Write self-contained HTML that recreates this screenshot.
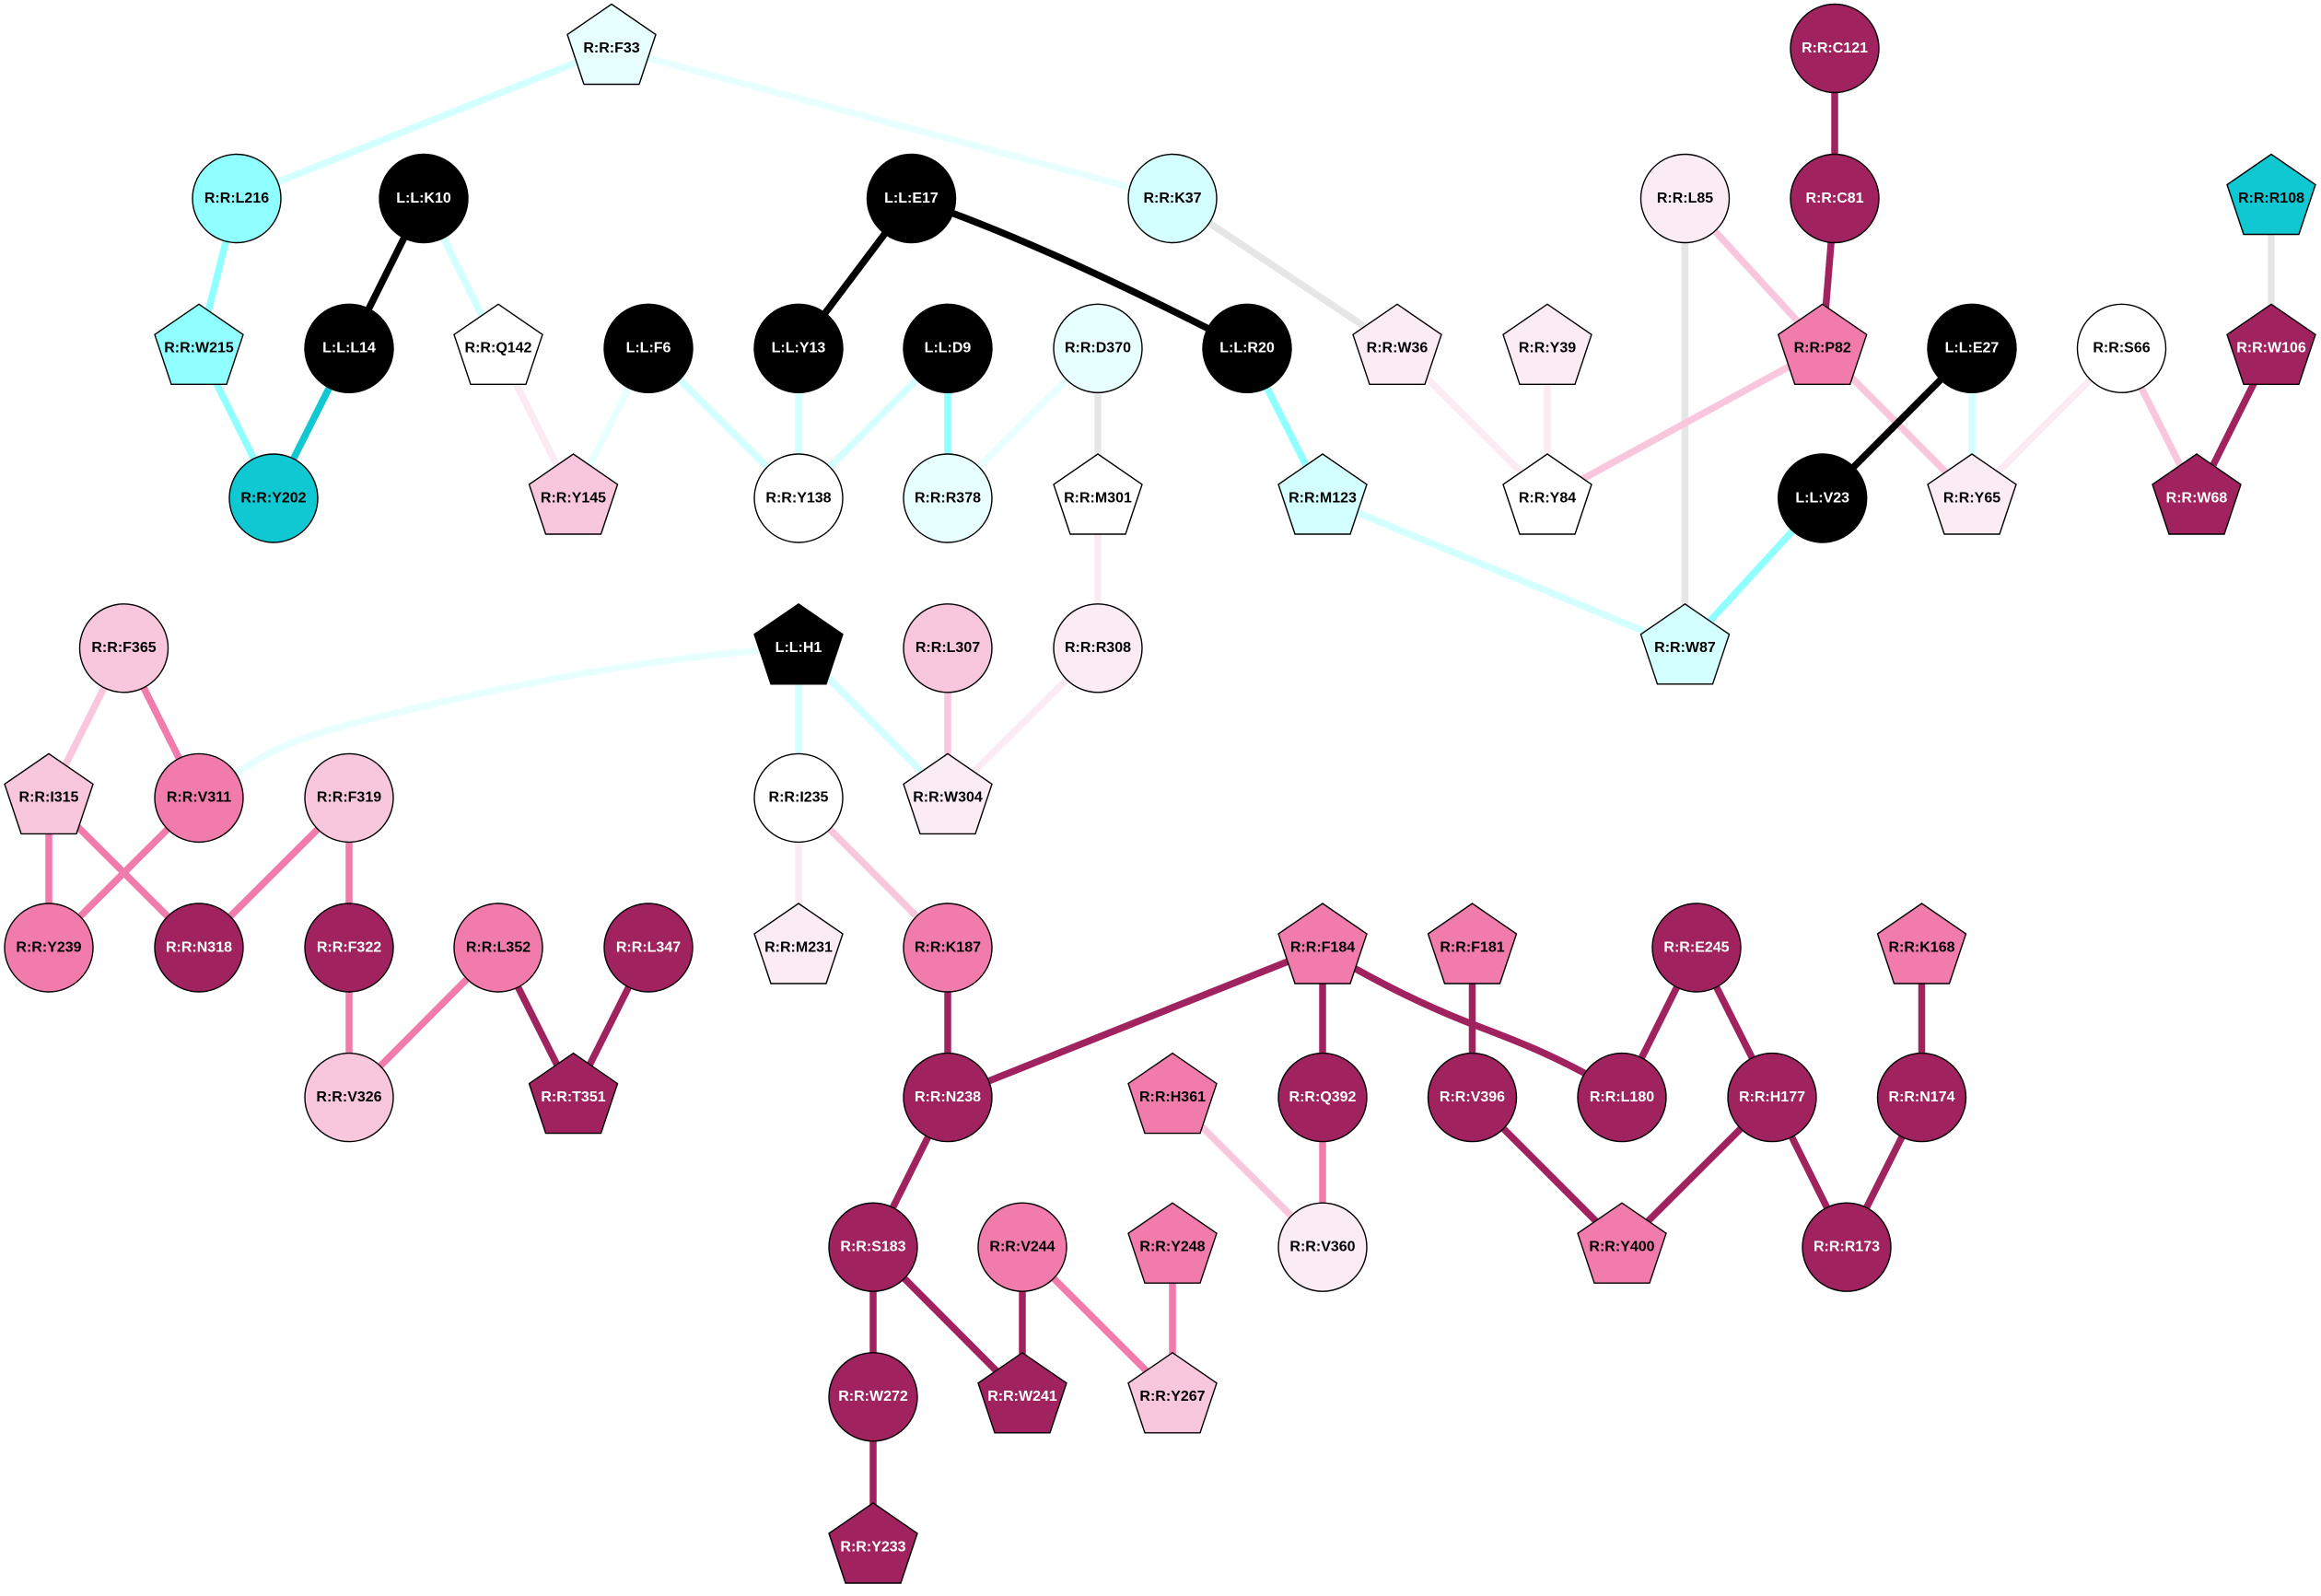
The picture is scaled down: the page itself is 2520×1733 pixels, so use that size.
<!DOCTYPE html>
<html><head><meta charset="utf-8"><title>Residue network</title>
<style>
html,body{margin:0;padding:0;background:#fff}
svg{display:block}
text{font-family:"Liberation Sans",Arial,sans-serif;font-size:16px;font-weight:bold;text-anchor:middle}
.e{fill:none;stroke-width:7.5}
.k{stroke:#000}.d{stroke:#A0235F}.p{stroke:#F17CAC}.l{stroke:#F9C7DD}.f{stroke:#FBECF4}
.c{stroke:#8FFFFF}.t{stroke:#10C8D2}.m{stroke:#D3FFFF}.v{stroke:#E8FFFF}.g{stroke:#E6E6E6}
.n{stroke:#000;stroke-width:1.4}
.Nw{fill:#fff}.Nv{fill:#E8FFFF}.Nm{fill:#D3FFFF}.Nc{fill:#8FFFFF}.Nt{fill:#10C8D2}.Nf{fill:#FBECF4}.Nl{fill:#F9C7DD}.Np{fill:#F17CAC}.Nd{fill:#A0235F}.Nk{fill:#000}
.W{fill:#fff}
</style></head><body>
<svg xmlns="http://www.w3.org/2000/svg" width="2520" height="1733" viewBox="0 0 2520 1733">
<defs>
<circle id="o" r="48"/>
<polygon id="q" points="0,-48 48,-15 30,39 -30,39 -48,-15"/>
</defs>
<rect width="2520" height="1733" fill="#fff"/>
<g>
<line class="e m" x1="664" y1="52.5" x2="257" y2="215.5"/>
<line class="e v" x1="664" y1="52.5" x2="1273" y2="215.5"/>
<line class="e c" x1="257" y1="215.5" x2="216" y2="378.3"/>
<line class="e c" x1="216" y1="378.3" x2="297" y2="541"/>
<line class="e k" x1="460" y1="215.5" x2="379" y2="378.3"/>
<line class="e m" x1="460" y1="215.5" x2="541" y2="378.3"/>
<line class="e t" x1="379" y1="378.3" x2="297" y2="541"/>
<line class="e f" x1="541" y1="378.3" x2="622.5" y2="541"/>
<line class="e v" x1="704" y1="378.3" x2="622.5" y2="541"/>
<line class="e m" x1="704" y1="378.3" x2="867" y2="541"/>
<line class="e k" x1="989.5" y1="215.5" x2="867" y2="378.3"/>
<path class="e k" d="M989.5,215.5 Q1128.6,262 1354,378.3"/>
<line class="e m" x1="867" y1="378.3" x2="867" y2="541"/>
<line class="e m" x1="1029" y1="378.3" x2="867" y2="541"/>
<line class="e c" x1="1029" y1="378.3" x2="1029" y2="541"/>
<line class="e v" x1="1192" y1="378.3" x2="1029" y2="541"/>
<line class="e g" x1="1192" y1="378.3" x2="1192" y2="541"/>
<line class="e c" x1="1354" y1="378.3" x2="1436" y2="541"/>
<line class="e m" x1="1436" y1="541" x2="1829.5" y2="703.8"/>
<line class="e g" x1="1273" y1="215.5" x2="1517" y2="378.3"/>
<line class="e f" x1="1517" y1="378.3" x2="1680" y2="541"/>
<line class="e f" x1="1680" y1="378.3" x2="1680" y2="541"/>
<line class="e g" x1="1829.5" y1="215.5" x2="1829.5" y2="703.8"/>
<line class="e l" x1="1829.5" y1="215.5" x2="1978.7" y2="378.3"/>
<line class="e d" x1="1992" y1="52.5" x2="1992" y2="215.5"/>
<line class="e d" x1="1992" y1="215.5" x2="1978.7" y2="378.3"/>
<line class="e l" x1="1978.7" y1="378.3" x2="1680" y2="541"/>
<line class="e l" x1="1978.7" y1="378.3" x2="2141" y2="541"/>
<line class="e k" x1="2141" y1="378.3" x2="1978.7" y2="541"/>
<line class="e m" x1="2141" y1="378.3" x2="2141" y2="541"/>
<line class="e c" x1="1978.7" y1="541" x2="1829.5" y2="703.8"/>
<line class="e f" x1="2303.5" y1="378.3" x2="2141" y2="541"/>
<line class="e l" x1="2303.5" y1="378.3" x2="2385" y2="541"/>
<line class="e g" x1="2466" y1="215.5" x2="2466" y2="378.3"/>
<line class="e d" x1="2466" y1="378.3" x2="2385" y2="541"/>
<line class="e f" x1="1192" y1="541" x2="1192" y2="703.8"/>
<line class="e l" x1="134.5" y1="703.8" x2="53" y2="866.4"/>
<line class="e p" x1="134.5" y1="703.8" x2="216" y2="866.4"/>
<path class="e v" d="M867,703 C740,712 620,730 475.5,763.3 C400,781 335,795 291.8,818.3 C270,830 250,843 235,857"/>
<line class="e m" x1="867" y1="703.8" x2="867" y2="866.4"/>
<line class="e m" x1="867" y1="703.8" x2="1029" y2="866.4"/>
<line class="e l" x1="1029" y1="703.8" x2="1029" y2="866.4"/>
<line class="e f" x1="1192" y1="703.8" x2="1029" y2="866.4"/>
<line class="e p" x1="53" y1="866.4" x2="53" y2="1029"/>
<line class="e p" x1="53" y1="866.4" x2="216" y2="1029"/>
<line class="e p" x1="216" y1="866.4" x2="53" y2="1029"/>
<line class="e p" x1="379" y1="866.4" x2="216" y2="1029"/>
<line class="e p" x1="379" y1="866.4" x2="379" y2="1029"/>
<line class="e p" x1="379" y1="1029" x2="379" y2="1191.6"/>
<line class="e p" x1="541" y1="1029" x2="379" y2="1191.6"/>
<line class="e d" x1="541" y1="1029" x2="622.5" y2="1191.6"/>
<line class="e d" x1="704" y1="1029" x2="622.5" y2="1191.6"/>
<line class="e f" x1="867" y1="866.4" x2="867" y2="1029"/>
<line class="e l" x1="867" y1="866.4" x2="1029" y2="1029"/>
<line class="e d" x1="1029" y1="1029" x2="1029" y2="1191.6"/>
<line class="e d" x1="1436" y1="1029" x2="1029" y2="1191.6"/>
<line class="e d" x1="1436" y1="1029" x2="1436" y2="1191.6"/>
<path class="e d" d="M1440,1034 C1480,1057 1530,1085 1593.3,1110 C1640,1128 1680,1142 1740,1176"/>
<line class="e d" x1="1598.5" y1="1029" x2="1598.5" y2="1191.6"/>
<line class="e d" x1="1842" y1="1029" x2="1761" y2="1191.6"/>
<line class="e d" x1="1842" y1="1029" x2="1924" y2="1191.6"/>
<line class="e d" x1="2086.5" y1="1029" x2="2086.5" y2="1191.6"/>
<line class="e d" x1="1598.5" y1="1191.6" x2="1761" y2="1354.2"/>
<line class="e d" x1="1924" y1="1191.6" x2="1761" y2="1354.2"/>
<line class="e d" x1="1924" y1="1191.6" x2="2005" y2="1354.2"/>
<line class="e d" x1="2086.5" y1="1191.6" x2="2005" y2="1354.2"/>
<line class="e l" x1="1273" y1="1191.6" x2="1436" y2="1354.2"/>
<line class="e p" x1="1436" y1="1191.6" x2="1436" y2="1354.2"/>
<line class="e d" x1="1029" y1="1191.6" x2="948" y2="1354.2"/>
<line class="e d" x1="948" y1="1354.2" x2="948" y2="1516.8"/>
<line class="e d" x1="948" y1="1354.2" x2="1110" y2="1516.8"/>
<line class="e d" x1="1110" y1="1354.2" x2="1110" y2="1516.8"/>
<line class="e p" x1="1110" y1="1354.2" x2="1273" y2="1516.8"/>
<line class="e p" x1="1273" y1="1354.2" x2="1273" y2="1516.8"/>
<line class="e d" x1="948" y1="1516.8" x2="948" y2="1680"/>
</g>
<g class="n">
<use href="#q" x="664" y="52.5" class="Nv"/>
<use href="#o" x="1992" y="52.5" class="Nd"/>
<use href="#o" x="257" y="215.5" class="Nc"/>
<use href="#o" x="460" y="215.5" class="Nk"/>
<use href="#o" x="989.5" y="215.5" class="Nk"/>
<use href="#o" x="1273" y="215.5" class="Nm"/>
<use href="#o" x="1829.5" y="215.5" class="Nf"/>
<use href="#o" x="1992" y="215.5" class="Nd"/>
<use href="#q" x="2466" y="215.5" class="Nt"/>
<use href="#q" x="216" y="378.3" class="Nc"/>
<use href="#o" x="379" y="378.3" class="Nk"/>
<use href="#q" x="541" y="378.3" class="Nw"/>
<use href="#o" x="704" y="378.3" class="Nk"/>
<use href="#o" x="867" y="378.3" class="Nk"/>
<use href="#o" x="1029" y="378.3" class="Nk"/>
<use href="#o" x="1192" y="378.3" class="Nv"/>
<use href="#o" x="1354" y="378.3" class="Nk"/>
<use href="#q" x="1517" y="378.3" class="Nf"/>
<use href="#q" x="1680" y="378.3" class="Nf"/>
<use href="#q" x="1978.7" y="378.3" class="Np"/>
<use href="#o" x="2141" y="378.3" class="Nk"/>
<use href="#o" x="2303.5" y="378.3" class="Nw"/>
<use href="#q" x="2466" y="378.3" class="Nd"/>
<use href="#o" x="297" y="541" class="Nt"/>
<use href="#q" x="622.5" y="541" class="Nl"/>
<use href="#o" x="867" y="541" class="Nw"/>
<use href="#o" x="1029" y="541" class="Nv"/>
<use href="#q" x="1192" y="541" class="Nw"/>
<use href="#q" x="1436" y="541" class="Nm"/>
<use href="#q" x="1680" y="541" class="Nw"/>
<use href="#o" x="1978.7" y="541" class="Nk"/>
<use href="#q" x="2141" y="541" class="Nf"/>
<use href="#q" x="2385" y="541" class="Nd"/>
<use href="#o" x="134.5" y="703.8" class="Nl"/>
<use href="#q" x="867" y="703.8" class="Nk"/>
<use href="#o" x="1029" y="703.8" class="Nl"/>
<use href="#o" x="1192" y="703.8" class="Nf"/>
<use href="#q" x="1829.5" y="703.8" class="Nm"/>
<use href="#q" x="53" y="866.4" class="Nl"/>
<use href="#o" x="216" y="866.4" class="Np"/>
<use href="#o" x="379" y="866.4" class="Nl"/>
<use href="#o" x="867" y="866.4" class="Nw"/>
<use href="#q" x="1029" y="866.4" class="Nf"/>
<use href="#o" x="53" y="1029" class="Np"/>
<use href="#o" x="216" y="1029" class="Nd"/>
<use href="#o" x="379" y="1029" class="Nd"/>
<use href="#o" x="541" y="1029" class="Np"/>
<use href="#o" x="704" y="1029" class="Nd"/>
<use href="#q" x="867" y="1029" class="Nf"/>
<use href="#o" x="1029" y="1029" class="Np"/>
<use href="#q" x="1436" y="1029" class="Np"/>
<use href="#q" x="1598.5" y="1029" class="Np"/>
<use href="#o" x="1842" y="1029" class="Nd"/>
<use href="#q" x="2086.5" y="1029" class="Np"/>
<use href="#o" x="379" y="1191.6" class="Nl"/>
<use href="#q" x="622.5" y="1191.6" class="Nd"/>
<use href="#o" x="1029" y="1191.6" class="Nd"/>
<use href="#q" x="1273" y="1191.6" class="Np"/>
<use href="#o" x="1436" y="1191.6" class="Nd"/>
<use href="#o" x="1598.5" y="1191.6" class="Nd"/>
<use href="#o" x="1761" y="1191.6" class="Nd"/>
<use href="#o" x="1924" y="1191.6" class="Nd"/>
<use href="#o" x="2086.5" y="1191.6" class="Nd"/>
<use href="#o" x="948" y="1354.2" class="Nd"/>
<use href="#o" x="1110" y="1354.2" class="Np"/>
<use href="#q" x="1273" y="1354.2" class="Np"/>
<use href="#o" x="1436" y="1354.2" class="Nf"/>
<use href="#q" x="1761" y="1354.2" class="Np"/>
<use href="#o" x="2005" y="1354.2" class="Nd"/>
<use href="#o" x="948" y="1516.8" class="Nd"/>
<use href="#q" x="1110" y="1516.8" class="Nd"/>
<use href="#q" x="1273" y="1516.8" class="Nl"/>
<use href="#q" x="948" y="1680" class="Nd"/>
</g>
<g>
<text x="664" y="57">R:R:F33</text>
<text x="1992" y="57" class="W">R:R:C121</text>
<text x="257" y="220">R:R:L216</text>
<text x="460" y="220" class="W">L:L:K10</text>
<text x="989.5" y="220" class="W">L:L:E17</text>
<text x="1273" y="220">R:R:K37</text>
<text x="1829.5" y="220">R:R:L85</text>
<text x="1992" y="220" class="W">R:R:C81</text>
<text x="2466" y="220">R:R:R108</text>
<text x="216" y="382.5">R:R:W215</text>
<text x="379" y="382.5" class="W">L:L:L14</text>
<text x="541" y="382.5">R:R:Q142</text>
<text x="704" y="382.5" class="W">L:L:F6</text>
<text x="867" y="382.5" class="W">L:L:Y13</text>
<text x="1029" y="382.5" class="W">L:L:D9</text>
<text x="1192" y="382.5">R:R:D370</text>
<text x="1354" y="382.5" class="W">L:L:R20</text>
<text x="1517" y="382.5">R:R:W36</text>
<text x="1680" y="382.5">R:R:Y39</text>
<text x="1978.7" y="382.5">R:R:P82</text>
<text x="2141" y="382.5" class="W">L:L:E27</text>
<text x="2303.5" y="382.5">R:R:S66</text>
<text x="2466" y="382.5" class="W">R:R:W106</text>
<text x="297" y="545.3">R:R:Y202</text>
<text x="622.5" y="545.3">R:R:Y145</text>
<text x="867" y="545.3">R:R:Y138</text>
<text x="1029" y="545.3">R:R:R378</text>
<text x="1192" y="545.3">R:R:M301</text>
<text x="1436" y="545.3">R:R:M123</text>
<text x="1680" y="545.3">R:R:Y84</text>
<text x="1978.7" y="545.3" class="W">L:L:V23</text>
<text x="2141" y="545.3">R:R:Y65</text>
<text x="2385" y="545.3" class="W">R:R:W68</text>
<text x="134.5" y="708">R:R:F365</text>
<text x="867" y="708" class="W">L:L:H1</text>
<text x="1029" y="708">R:R:L307</text>
<text x="1192" y="708">R:R:R308</text>
<text x="1829.5" y="708">R:R:W87</text>
<text x="53" y="870.6">R:R:I315</text>
<text x="216" y="870.6">R:R:V311</text>
<text x="379" y="870.6">R:R:F319</text>
<text x="867" y="870.6">R:R:I235</text>
<text x="1029" y="870.6">R:R:W304</text>
<text x="53" y="1033.3">R:R:Y239</text>
<text x="216" y="1033.3" class="W">R:R:N318</text>
<text x="379" y="1033.3" class="W">R:R:F322</text>
<text x="541" y="1033.3">R:R:L352</text>
<text x="704" y="1033.3" class="W">R:R:L347</text>
<text x="867" y="1033.3">R:R:M231</text>
<text x="1029" y="1033.3">R:R:K187</text>
<text x="1436" y="1033.3">R:R:F184</text>
<text x="1598.5" y="1033.3">R:R:F181</text>
<text x="1842" y="1033.3" class="W">R:R:E245</text>
<text x="2086.5" y="1033.3">R:R:K168</text>
<text x="379" y="1196">R:R:V326</text>
<text x="622.5" y="1196" class="W">R:R:T351</text>
<text x="1029" y="1196" class="W">R:R:N238</text>
<text x="1273" y="1196">R:R:H361</text>
<text x="1436" y="1196" class="W">R:R:Q392</text>
<text x="1598.5" y="1196" class="W">R:R:V396</text>
<text x="1761" y="1196" class="W">R:R:L180</text>
<text x="1924" y="1196" class="W">R:R:H177</text>
<text x="2086.5" y="1196" class="W">R:R:N174</text>
<text x="948" y="1358.5" class="W">R:R:S183</text>
<text x="1110" y="1358.5">R:R:V244</text>
<text x="1273" y="1358.5">R:R:Y248</text>
<text x="1436" y="1358.5">R:R:V360</text>
<text x="1761" y="1358.5">R:R:Y400</text>
<text x="2005" y="1358.5" class="W">R:R:R173</text>
<text x="948" y="1521" class="W">R:R:W272</text>
<text x="1110" y="1521" class="W">R:R:W241</text>
<text x="1273" y="1521">R:R:Y267</text>
<text x="948" y="1684.3" class="W">R:R:Y233</text>
</g>
</svg>
</body></html>
